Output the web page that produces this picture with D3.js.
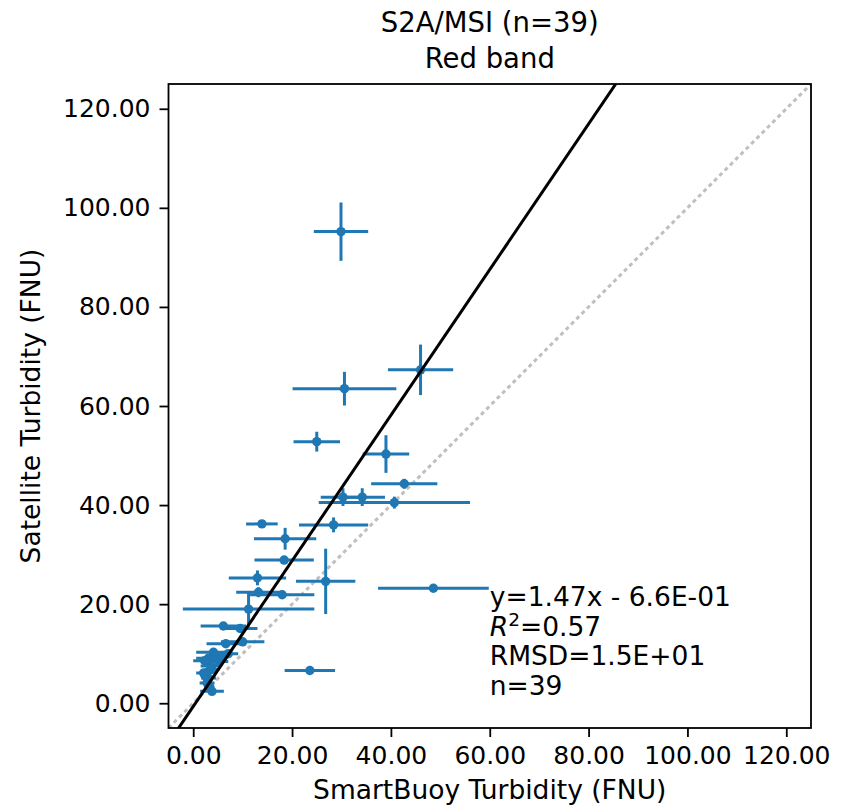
<!DOCTYPE html>
<html>
<head>
<meta charset="utf-8">
<script src="https://cdn.jsdelivr.net/npm/d3@7/dist/d3.min.js"></script>
<style>
  body { margin: 0; background: #fff; }
  svg text { font-family: "DejaVu Sans", sans-serif; fill: #000; }
</style>
</head>
<body>
<svg id="chart"></svg>
<script>
// SmartBuoy (x) vs satellite (y) turbidity, with std errors
const buoy = [29.9, 46.0, 30.6, 25.0, 39.0, 42.7, 30.3, 34.2, 40.7, 28.4,
  13.9, 18.6, 18.4, 26.8, 13.0, 48.6, 13.2, 18.0, 11.2, 23.6,
  6.1, 9.5, 6.6, 10.0, 4.1, 7.1, 3.1, 5.1, 2.1, 3.1,
  2.8, 3.8, 3.8, 2.5, 3.5, 2.3, 4.5, 3.3, 5.8];
const sat = [95.2, 67.3, 63.5, 52.8, 50.3, 44.3, 41.6, 41.6, 40.5, 36.0,
  36.2, 33.2, 28.9, 24.6, 25.3, 23.2, 22.4, 21.9, 19.0, 6.6,
  15.6, 15.1, 12.0, 12.4, 10.3, 10.0, 9.1, 8.4, 6.1, 5.1,
  4.1, 6.8, 2.4, 5.5, 7.5, 8.6, 9.2, 3.3, 9.6];
const buoyErr = [5.5, 6.6, 10.5, 4.7, 4.7, 6.7, 4.5, 4.6, 15.3, 7.0,
  3.2, 6.3, 6.0, 6.0, 5.8, 11.2, 4.5, 6.5, 13.3, 5.1,
  4.6, 3.5, 3.9, 4.4, 3.5, 2.0, 2.5, 2.0, 1.5, 1.5,
  1.5, 1.5, 2.4, 1.0, 2.0, 2.3, 1.5, 1.0, 1.5];
const satErr = [5.9, 5.1, 3.4, 2.0, 3.8, 1.0, 1.8, 1.8, 1.2, 1.5,
  0.5, 2.2, 0.5, 6.6, 1.5, 0.5, 1.0, 0.8, 3.5, 0.5,
  0.5, 0.5, 0.5, 0.5, 0.8, 0.5, 0.5, 0.8, 0.5, 0.5,
  0.5, 0.5, 0.5, 0.5, 0.5, 0.5, 0.5, 0.5, 0.5];

const fitSlope = 1.47, fitIntercept = -0.66;
const statsLines = ["y=1.47x - 6.6E-01", "R2", "RMSD=1.5E+01", "n=39"];
const ticks = [0, 20, 40, 60, 80, 100, 120];
const domain = [-5, 125];

const width = 850, height = 807;
const margin = { top: 84, right: 39, bottom: 79, left: 168.5 };
const blue = '#1f77b4';

const svg = d3.select('#chart')
  .attr('width', width)
  .attr('height', height);

const x = d3.scaleLinear().domain(domain).range([margin.left, width - margin.right]);
const y = d3.scaleLinear().domain(domain).range([height - margin.bottom, margin.top]);

const points = buoy.map((b, i) => ({ x: b, y: sat[i], xe: buoyErr[i], ye: satErr[i] }));

svg.append('clipPath').attr('id', 'plotclip')
  .append('rect')
  .attr('x', x(domain[0])).attr('y', y(domain[1]))
  .attr('width', x(domain[1]) - x(domain[0]))
  .attr('height', y(domain[0]) - y(domain[1]));

const plot = svg.append('g').attr('clip-path', 'url(#plotclip)');

// 1:1 line
plot.append('line')
  .attr('x1', x(domain[0])).attr('y1', y(domain[0]))
  .attr('x2', x(domain[1])).attr('y2', y(domain[1]))
  .attr('stroke', '#bfbfbf')
  .attr('stroke-width', 3)
  .attr('stroke-dasharray', '4,3.5');

// error bars
const bars = plot.append('g').attr('stroke', blue).attr('stroke-width', 3);
bars.selectAll('line.xe')
  .data(points)
  .enter().append('line')
  .attr('class', 'xe')
  .attr('x1', d => x(d.x - d.xe)).attr('x2', d => x(d.x + d.xe))
  .attr('y1', d => y(d.y)).attr('y2', d => y(d.y));
bars.selectAll('line.ye')
  .data(points)
  .enter().append('line')
  .attr('class', 'ye')
  .attr('x1', d => x(d.x)).attr('x2', d => x(d.x))
  .attr('y1', d => y(d.y - d.ye)).attr('y2', d => y(d.y + d.ye));

plot.append('g')
  .selectAll('circle')
  .data(points)
  .enter().append('circle')
  .attr('cx', d => x(d.x))
  .attr('cy', d => y(d.y))
  .attr('r', 4.7)
  .attr('fill', blue);

// regression line
plot.append('line')
  .attr('x1', x(domain[0])).attr('y1', y(fitSlope * domain[0] + fitIntercept))
  .attr('x2', x(domain[1])).attr('y2', y(fitSlope * domain[1] + fitIntercept))
  .attr('stroke', '#000')
  .attr('stroke-width', 3);

// axes
const fmt = d3.format('.2f');
const xAxis = svg.append('g')
  .attr('transform', `translate(0,${height - margin.bottom})`)
  .call(d3.axisBottom(x).tickValues(ticks).tickFormat(fmt).tickSize(9).tickPadding(9.5));
const yAxis = svg.append('g')
  .attr('transform', `translate(${margin.left},0)`)
  .call(d3.axisLeft(y).tickValues(ticks).tickFormat(fmt).tickSize(9).tickPadding(9));
[xAxis, yAxis].forEach(a => {
  a.select('.domain').remove();
  a.selectAll('line').attr('stroke', '#000').attr('stroke-width', 1.8);
  a.selectAll('text').attr('font-size', 25).attr('font-family', '"DejaVu Sans", sans-serif');
});

// frame
svg.append('rect')
  .attr('x', x(domain[0])).attr('y', y(domain[1]))
  .attr('width', x(domain[1]) - x(domain[0]))
  .attr('height', y(domain[0]) - y(domain[1]))
  .attr('fill', 'none')
  .attr('stroke', '#000')
  .attr('stroke-width', 1.8);

// titles
const cx = (x(domain[0]) + x(domain[1])) / 2;
svg.append('text').attr('x', cx).attr('y', 32)
  .attr('text-anchor', 'middle').attr('font-size', 27.5)
  .text('S2A/MSI (n=39)');
svg.append('text').attr('x', cx).attr('y', 68)
  .attr('text-anchor', 'middle').attr('font-size', 27.5)
  .text('Red band');
svg.append('text').attr('x', cx).attr('y', 799)
  .attr('text-anchor', 'middle').attr('font-size', 26.5)
  .text('SmartBuoy Turbidity (FNU)');
svg.append('text')
  .attr('transform', `translate(40,${(y(domain[0]) + y(domain[1])) / 2}) rotate(-90)`)
  .attr('text-anchor', 'middle').attr('font-size', 26.5)
  .text('Satellite Turbidity (FNU)');

// stats box
const stats = svg.append('g').attr('font-size', 26.5);
statsLines.forEach((s, i) => {
  const t = stats.append('text')
    .attr('x', x(60))
    .attr('y', 606 + i * 29.5);
  if (s === 'R2') {
    t.append('tspan').attr('font-style', 'italic').text('R');
    t.append('tspan').attr('dy', -10).attr('font-size', 18.5).text('2');
    t.append('tspan').attr('dy', 10).text('=0.57');
  } else {
    t.text(s);
  }
});
</script>
</body>
</html>
